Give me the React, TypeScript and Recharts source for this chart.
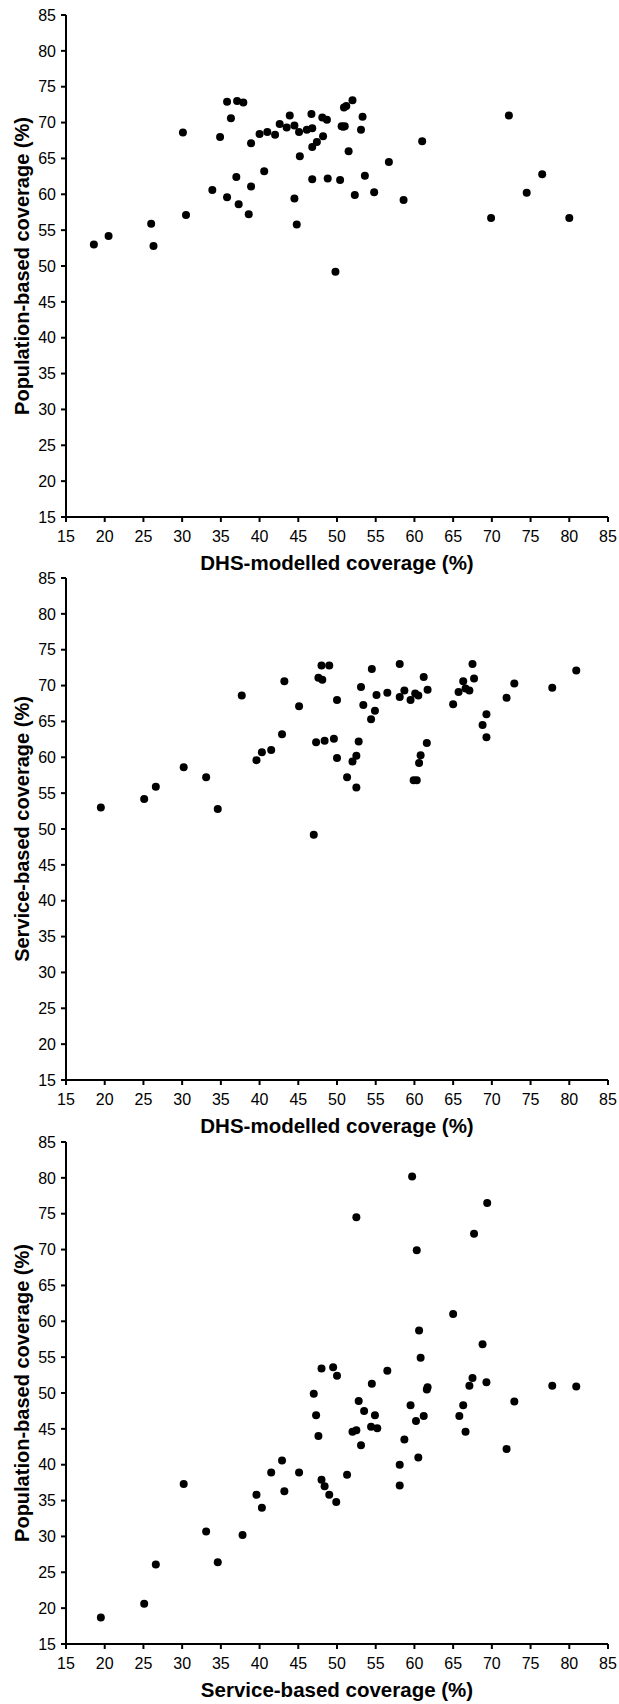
import React from 'react';
import { ScatterChart, Scatter, XAxis, YAxis, Label } from 'recharts';

const TICKS = [15, 20, 25, 30, 35, 40, 45, 50, 55, 60, 65, 70, 75, 80, 85];

// Panel 1: DHS-modelled (x) vs Population-based (y)
const panel1 = [
  { x: 18.6, y: 53.0 }, { x: 20.5, y: 54.2 }, { x: 26.0, y: 55.9 }, { x: 26.3, y: 52.8 },
  { x: 30.1, y: 68.6 }, { x: 30.5, y: 57.1 }, { x: 33.9, y: 60.6 }, { x: 34.9, y: 68.0 },
  { x: 35.8, y: 72.9 }, { x: 36.3, y: 70.6 }, { x: 35.8, y: 59.6 }, { x: 37.0, y: 62.4 },
  { x: 37.1, y: 73.0 }, { x: 37.9, y: 72.8 }, { x: 37.3, y: 58.6 }, { x: 38.9, y: 67.1 },
  { x: 38.9, y: 61.1 }, { x: 38.6, y: 57.2 }, { x: 40.0, y: 68.4 }, { x: 40.6, y: 63.2 },
  { x: 41.0, y: 68.7 }, { x: 42.0, y: 68.3 }, { x: 42.6, y: 69.8 }, { x: 43.5, y: 69.3 },
  { x: 43.9, y: 71.0 }, { x: 44.5, y: 69.6 }, { x: 45.1, y: 68.7 }, { x: 45.2, y: 65.3 },
  { x: 44.5, y: 59.4 }, { x: 44.8, y: 55.8 }, { x: 46.1, y: 69.0 }, { x: 46.7, y: 71.2 },
  { x: 46.8, y: 69.2 }, { x: 46.8, y: 66.6 }, { x: 47.4, y: 67.3 }, { x: 48.2, y: 68.1 },
  { x: 48.1, y: 70.7 }, { x: 48.7, y: 70.4 }, { x: 46.8, y: 62.1 }, { x: 48.8, y: 62.2 },
  { x: 50.4, y: 62.0 }, { x: 49.8, y: 49.2 }, { x: 50.9, y: 72.1 }, { x: 51.2, y: 72.3 },
  { x: 52.0, y: 73.1 }, { x: 50.6, y: 69.5 }, { x: 51.0, y: 69.5 }, { x: 50.8, y: 69.4 },
  { x: 53.3, y: 70.8 }, { x: 53.1, y: 69.0 }, { x: 51.5, y: 66.0 }, { x: 53.6, y: 62.6 },
  { x: 52.3, y: 59.9 }, { x: 54.8, y: 60.3 }, { x: 56.7, y: 64.5 }, { x: 58.6, y: 59.2 },
  { x: 61.0, y: 67.4 }, { x: 69.9, y: 56.7 }, { x: 72.2, y: 71.0 }, { x: 74.5, y: 60.2 },
  { x: 76.5, y: 62.8 }, { x: 80.0, y: 56.7 },
];

// Panel 2: DHS-modelled (x) vs Service-based (y)
const panel2 = [
  { x: 43.2, y: 70.6 }, { x: 37.7, y: 68.6 }, { x: 45.1, y: 67.1 }, { x: 42.9, y: 63.2 },
  { x: 41.5, y: 61.0 }, { x: 40.3, y: 60.7 }, { x: 39.6, y: 59.6 }, { x: 30.2, y: 58.6 },
  { x: 33.1, y: 57.2 }, { x: 48.0, y: 72.8 }, { x: 49.0, y: 72.8 }, { x: 47.6, y: 71.1 },
  { x: 48.1, y: 70.8 }, { x: 50.0, y: 68.0 }, { x: 54.5, y: 72.3 }, { x: 53.1, y: 69.8 },
  { x: 53.4, y: 67.3 }, { x: 55.1, y: 68.7 }, { x: 54.9, y: 66.5 }, { x: 54.4, y: 65.3 },
  { x: 56.5, y: 69.0 }, { x: 58.1, y: 73.0 }, { x: 58.7, y: 69.3 }, { x: 58.1, y: 68.4 },
  { x: 59.5, y: 68.0 }, { x: 60.1, y: 68.9 }, { x: 60.5, y: 68.6 }, { x: 61.2, y: 71.2 },
  { x: 61.7, y: 69.4 }, { x: 65.0, y: 67.4 }, { x: 65.7, y: 69.1 }, { x: 66.3, y: 70.6 },
  { x: 66.6, y: 69.6 }, { x: 67.1, y: 69.3 }, { x: 67.5, y: 73.0 }, { x: 67.7, y: 71.0 },
  { x: 71.9, y: 68.3 }, { x: 72.9, y: 70.3 }, { x: 77.8, y: 69.7 }, { x: 69.3, y: 66.0 },
  { x: 68.8, y: 64.5 }, { x: 69.3, y: 62.8 }, { x: 47.3, y: 62.1 }, { x: 48.4, y: 62.3 },
  { x: 49.6, y: 62.6 }, { x: 50.0, y: 59.9 }, { x: 52.8, y: 62.2 }, { x: 52.5, y: 60.2 },
  { x: 52.0, y: 59.4 }, { x: 51.3, y: 57.2 }, { x: 61.6, y: 62.0 }, { x: 60.8, y: 60.3 },
  { x: 60.6, y: 59.2 }, { x: 59.9, y: 56.8 }, { x: 60.3, y: 56.8 }, { x: 80.9, y: 72.1 },
  { x: 19.5, y: 53.0 }, { x: 25.1, y: 54.2 }, { x: 26.6, y: 55.9 }, { x: 34.6, y: 52.8 },
  { x: 47.0, y: 49.2 }, { x: 52.5, y: 55.8 },
];

// Panel 3: Service-based (x) vs Population-based (y)
const panel3 = [
  { x: 59.7, y: 80.2 }, { x: 69.4, y: 76.5 }, { x: 52.5, y: 74.5 }, { x: 67.7, y: 72.2 },
  { x: 60.3, y: 69.9 }, { x: 65.0, y: 61.0 }, { x: 60.6, y: 58.7 }, { x: 68.8, y: 56.8 },
  { x: 60.8, y: 54.9 }, { x: 48.0, y: 53.4 }, { x: 49.5, y: 53.6 }, { x: 50.0, y: 52.4 },
  { x: 56.5, y: 53.1 }, { x: 54.5, y: 51.3 }, { x: 47.0, y: 49.9 }, { x: 67.5, y: 52.1 },
  { x: 67.1, y: 51.0 }, { x: 69.3, y: 51.5 }, { x: 77.8, y: 51.0 }, { x: 61.7, y: 50.8 },
  { x: 61.6, y: 50.5 }, { x: 72.9, y: 48.8 }, { x: 66.3, y: 48.3 }, { x: 52.8, y: 48.9 },
  { x: 59.5, y: 48.3 }, { x: 47.3, y: 46.9 }, { x: 53.5, y: 47.5 }, { x: 54.9, y: 46.9 },
  { x: 61.2, y: 46.8 }, { x: 60.2, y: 46.1 }, { x: 65.8, y: 46.8 }, { x: 54.4, y: 45.3 },
  { x: 55.2, y: 45.1 }, { x: 52.0, y: 44.6 }, { x: 52.5, y: 44.8 }, { x: 66.6, y: 44.6 },
  { x: 47.6, y: 44.0 }, { x: 53.1, y: 42.7 }, { x: 58.7, y: 43.5 }, { x: 71.9, y: 42.2 },
  { x: 80.9, y: 50.9 },
  { x: 19.5, y: 18.7 }, { x: 25.1, y: 20.6 }, { x: 26.6, y: 26.1 }, { x: 33.1, y: 30.7 },
  { x: 34.6, y: 26.4 }, { x: 37.8, y: 30.2 }, { x: 40.3, y: 34.0 }, { x: 49.9, y: 34.8 },
  { x: 30.2, y: 37.3 }, { x: 39.6, y: 35.8 }, { x: 41.5, y: 38.9 }, { x: 42.9, y: 40.6 },
  { x: 43.2, y: 36.3 }, { x: 45.1, y: 38.9 }, { x: 48.0, y: 37.9 }, { x: 48.4, y: 37.0 },
  { x: 49.0, y: 35.8 }, { x: 51.3, y: 38.6 }, { x: 58.1, y: 40.0 }, { x: 58.1, y: 37.1 },
  { x: 60.5, y: 41.0 },
];

const FONT = '"Liberation Sans", Arial, Helvetica, sans-serif';
const W = 619;

const Dot = (props: any) => <circle cx={props.cx} cy={props.cy} r={4} fill="#000" />;

function Panel({ data, xLabel, yLabel, top, height }: any) {
  const axisH = height - 15 - 502;
  return (
    <div style={{ position: 'absolute', left: 0, top, width: W, height }}>
      <ScatterChart
        width={W}
        height={height}
        margin={{ top: 15, right: 11, left: 0, bottom: 0 }}
        style={{ overflow: 'visible' }}
      >
        <XAxis
          type="number"
          dataKey="x"
          domain={[15, 85]}
          ticks={TICKS}
          interval={0}
          height={axisH}
          tickSize={5}
          tickMargin={9}
          axisLine={{ stroke: '#000', strokeWidth: 2 }}
          tickLine={{ stroke: '#000', strokeWidth: 2 }}
          tick={{ fill: '#000', fontSize: 16, fontFamily: FONT }}
          allowDataOverflow
        >
          <Label
            content={({ viewBox }: any) => (
              <text
                x={viewBox.x + viewBox.width / 2}
                y={viewBox.y + 53}
                textAnchor="middle"
                fontFamily={FONT}
                fontWeight="bold"
                fontSize={20.5}
                fill="#000"
              >
                {xLabel}
              </text>
            )}
          />
        </XAxis>
        <YAxis
          type="number"
          dataKey="y"
          domain={[15, 85]}
          ticks={TICKS}
          interval={0}
          width={66}
          tickSize={5}
          tickMargin={5}
          axisLine={{ stroke: '#000', strokeWidth: 2 }}
          tickLine={{ stroke: '#000', strokeWidth: 2 }}
          tick={{ fill: '#000', fontSize: 16, fontFamily: FONT }}
          allowDataOverflow
        >
          <Label
            content={({ viewBox }: any) => {
              const cy = viewBox.y + viewBox.height / 2;
              return (
                <text
                  transform="rotate(-90)"
                  x={-cy}
                  y={29}
                  textAnchor="middle"
                  fontFamily={FONT}
                  fontWeight="bold"
                  fontSize={20}
                  fill="#000"
                >
                  {yLabel}
                </text>
              );
            }}
          />
        </YAxis>
        <Scatter data={data} shape={<Dot />} isAnimationActive={false} />
      </ScatterChart>
    </div>
  );
}

export default function App() {
  return (
    <div style={{ position: 'absolute', left: 0, top: 0, width: W, height: 1704, background: '#fff' }}>
      <Panel data={panel1} xLabel="DHS-modelled coverage (%)" yLabel="Population-based coverage (%)" top={0} height={578} />
      <Panel data={panel2} xLabel="DHS-modelled coverage (%)" yLabel="Service-based coverage (%)" top={563} height={578} />
      <Panel data={panel3} xLabel="Service-based coverage (%)" yLabel="Population-based coverage (%)" top={1127} height={577} />
    </div>
  );
}
